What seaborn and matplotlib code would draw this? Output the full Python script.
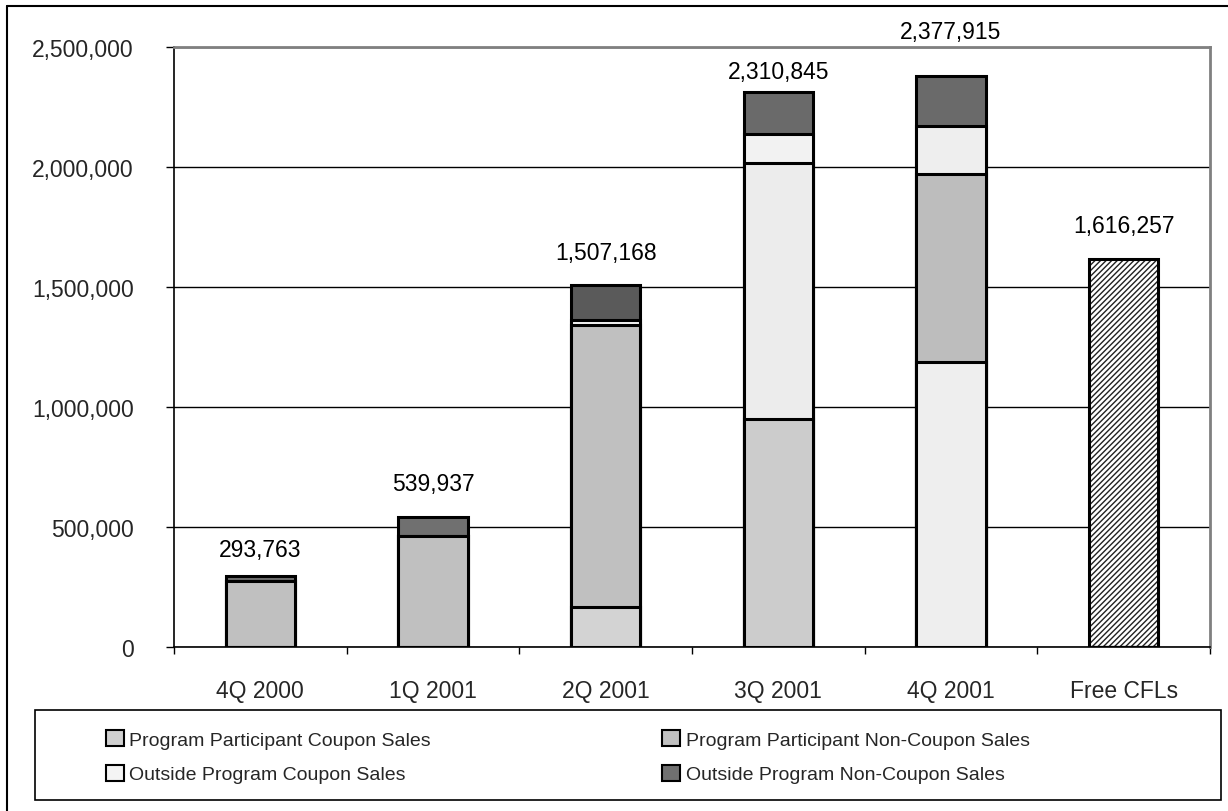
import matplotlib
matplotlib.use("Agg")
import matplotlib.pyplot as plt
from matplotlib.patches import Rectangle, Patch
from matplotlib.lines import Line2D
from matplotlib.ticker import FuncFormatter, FixedLocator
import seaborn as sns

# datos
categorias = ["4Q 2000", "1Q 2001", "2Q 2001", "3Q 2001", "4Q 2001", "Free CFLs"]
participante_cupon = [0, 0, 167000, 950000, 1186000, 0]
participante_sin_cupon = [275000, 463000, 1175000, 1065000, 785000, 0]
externo_cupon = [0, 0, 22000, 122000, 201000, 0]
externo_sin_cupon = [18763, 76937, 143168, 173845, 205915, 0]
cfl_gratis = [0, 0, 0, 0, 0, 1616257]
totales = [293763, 539937, 1507168, 2310845, 2377915, 1616257]

series_nombres = ["Program Participant Coupon Sales", "Program Participant Non-Coupon Sales",
                  "Outside Program Coupon Sales", "Outside Program Non-Coupon Sales"]

# colores por barra (el original usa tramas distintas en algunas barras)
col_cupon = ["#d0d0d0", "#d0d0d0", "#d3d3d3", "#cccccc", "#eeeeee", "#d0d0d0"]
col_sin_cupon = ["#c0c0c0", "#c0c0c0", "#c0c0c0", "#ececec", "#bdbdbd", "#c0c0c0"]
col_ext_cupon = ["#f4f4f4", "#f4f4f4", "#f4f4f4", "#f2f2f2", "#eeeeee", "#f4f4f4"]
col_ext_sin = ["#707070", "#707070", "#5a5a5a", "#6a6a6a", "#6a6a6a", "#707070"]
sep_etiqueta = [11, 16, 15, 7, 24, 16]  # separacion de la etiqueta sobre la barra (pt)

sns.set_theme(style="white")
plt.rcParams["font.family"] = ["Liberation Sans", "DejaVu Sans"]
plt.rcParams["hatch.linewidth"] = 1.0

fig = plt.figure(figsize=(12.28, 8.12), dpi=100)
ax = fig.add_axes([174 / 1228, 1 - 648 / 812, (1210 - 174) / 1228, 600 / 812])

# capas acumuladas, de arriba hacia abajo
capa1 = participante_cupon
capa2 = [a + b for a, b in zip(capa1, participante_sin_cupon)]
capa3 = [a + b for a, b in zip(capa2, externo_cupon)]
capa4 = [a + b for a, b in zip(capa3, externo_sin_cupon)]

# Free CFLs con trama diagonal
sns.barplot(x=categorias, y=cfl_gratis, color="white", width=0.4, hatch="//////",
            edgecolor="#202020", linewidth=0, ax=ax, saturation=1)
sns.barplot(x=categorias, y=cfl_gratis, fill=False, width=0.4,
            edgecolor="black", linewidth=2.2, ax=ax)

for capa, colores in [(capa4, col_ext_sin), (capa3, col_ext_cupon),
                      (capa2, col_sin_cupon), (capa1, col_cupon)]:
    sns.barplot(x=categorias, y=capa, hue=categorias, palette=dict(zip(categorias, colores)),
                legend=False, width=0.4, edgecolor="black", linewidth=2.2,
                saturation=1, ax=ax)

for i, (t, s) in enumerate(zip(totales, sep_etiqueta)):
    ax.annotate(f"{t:,}", xy=(i, t), xytext=(0, s), textcoords="offset points",
                ha="center", va="bottom", fontsize=16.5, color="black")

ax.set_ylim(0, 2500000)
ax.set_xlim(-0.5, 5.5)
ax.set_yticks([0, 500000, 1000000, 1500000, 2000000, 2500000])
ax.yaxis.set_major_formatter(FuncFormatter(lambda v, p: f"{v:,.0f}"))
ax.yaxis.grid(True, color="black", linewidth=1)
ax.set_axisbelow(True)
ax.set_xlabel("")
ax.set_ylabel("")

ax.tick_params(axis="y", which="major", length=6, width=1, direction="out",
               color="black", labelsize=16.5, pad=23, left=True)
ax.tick_params(axis="x", which="major", length=0, labelsize=16.5, pad=23)
ax.xaxis.set_minor_locator(FixedLocator([i - 0.5 for i in range(7)]))
ax.tick_params(axis="x", which="minor", length=5, width=1, direction="out",
               color="black", bottom=True)

for lado in ["left", "bottom"]:
    ax.spines[lado].set_color("black")
    ax.spines[lado].set_linewidth(1.2)
for lado in ["top", "right"]:
    ax.spines[lado].set_visible(True)
    ax.spines[lado].set_color("#808080")
    ax.spines[lado].set_linewidth(2)

# leyenda con recuadro propio
fig.add_artist(Rectangle((35 / 1228, 1 - 801 / 812), (1221 - 35) / 1228, 90 / 812,
                         transform=fig.transFigure, fill=False, edgecolor="black", linewidth=1.2))
manijas = [Patch(facecolor="#d0d0d0", edgecolor="black", linewidth=1.5),
           Patch(facecolor="#c0c0c0", edgecolor="black", linewidth=1.5),
           Patch(facecolor="#f4f4f4", edgecolor="black", linewidth=1.5),
           Patch(facecolor="#707070", edgecolor="black", linewidth=1.5)]
orden = [0, 2, 1, 3]
fig.legend([manijas[k] for k in orden], [series_nombres[k] for k in orden],
           loc="upper left", bbox_to_anchor=(106 / 1228, 1 - 731 / 812), ncol=2,
           frameon=False, borderpad=0, borderaxespad=0, fontsize=14,
           handlelength=0.9, handleheight=0.9, handletextpad=0.3,
           columnspacing=11.9, labelspacing=0.82)

# borde exterior (solo arriba e izquierda visibles)
fig.add_artist(Line2D([7 / 1228, 7 / 1228], [0, 1 - 7 / 812], transform=fig.transFigure,
                      color="black", linewidth=1.5))
fig.add_artist(Line2D([7 / 1228, 1], [1 - 7 / 812, 1 - 7 / 812], transform=fig.transFigure,
                      color="black", linewidth=1.5))

fig.savefig("out.png", dpi=100)
